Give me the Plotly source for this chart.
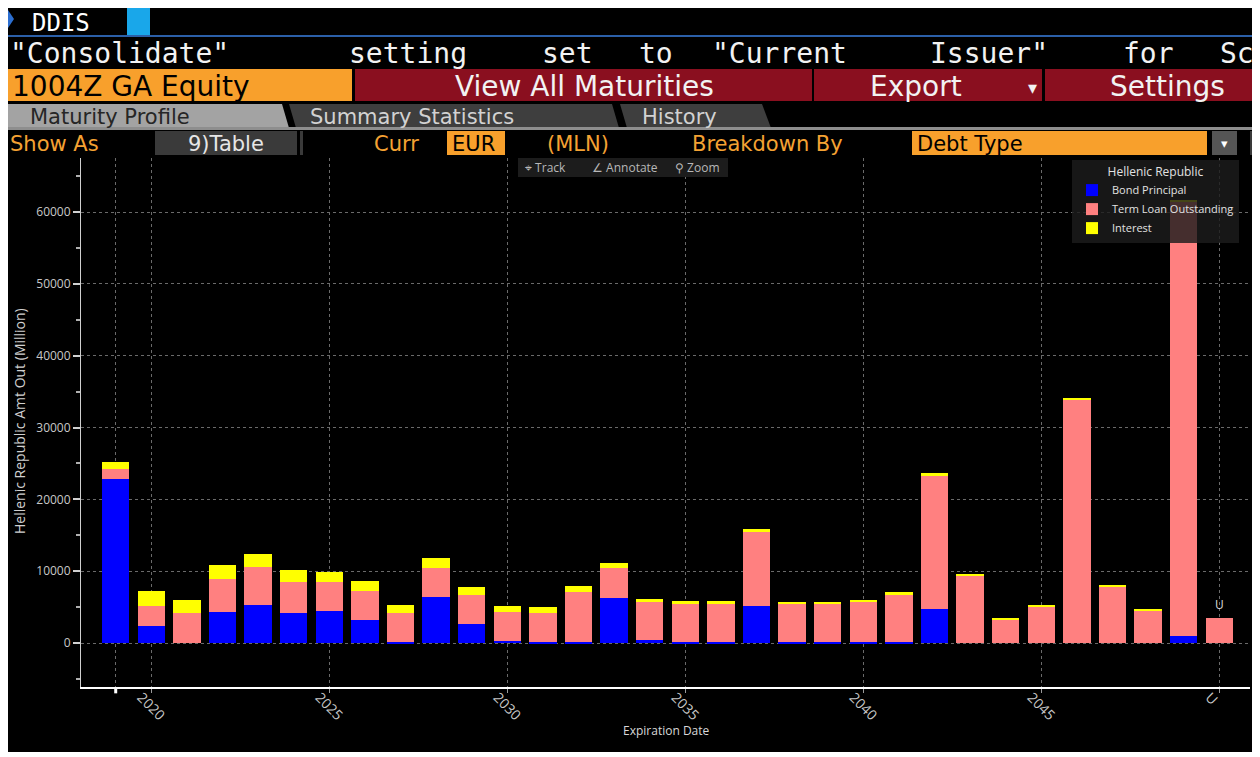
import plotly.graph_objects as go

# ---------------- data ----------------
categories = ["2019", "2020", "2021", "2022", "2023", "2024", "2025", "2026", "2027", "2028",
              "2029", "2030", "2031", "2032", "2033", "2034", "2035", "2036", "2037", "2038",
              "2039", "2040", "2041", "2042", "2043", "2044", "2045", "2046", "2047", "2048",
              "2049", "U"]
bond_principal = [22790, 2420, 0, 4370, 5260, 4230, 4510, 3260, 200, 6370,
                  2700, 330, 150, 100, 6230, 470, 100, 100, 5120, 100,
                  100, 120, 190, 4780, 0, 0, 0, 0, 0, 0,
                  970, 0]
term_loan = [1490, 2790, 4230, 4510, 5300, 4330, 3960, 4040, 4030, 4140,
             4040, 4040, 4080, 6970, 4190, 5300, 5390, 5390, 10280, 5390,
             5390, 5690, 6620, 18590, 9460, 3250, 5150, 33940, 7880, 4500,
             60500, 3480]
interest = [880, 2000, 1820, 2000, 1860, 1630, 1440, 1300, 1120, 1260,
            1030, 840, 840, 840, 740, 420, 420, 420, 410, 280,
            280, 230, 240, 270, 140, 130, 180, 180, 140, 140,
            230, 0]
x_tick_vals = ["2019", "2020", "2025", "2030", "2035", "2040", "2045", "U"]
x_tick_text = ["", "2020", "2025", "2030", "2035", "2040", "2045", "U"]
y_tick_vals = [0, 10000, 20000, 30000, 40000, 50000, 60000]
y_tick_text = ["0", "10000", "20000", "30000", "40000", "50000", "60000"]

# ---------------- geometry (reference-screen pixel helpers) ----------------
OFF = 8                       # page body offset
W, H = 1248, 744
PL, PR, PT, PB = 81, 1250, 158, 687   # plot area in screen pixels
ML, MT = PL - OFF, PT - OFF
MR, MB = W - (PR - OFF), H - (PB - OFF)
PW, PH = PR - PL, PB - PT


def px(x):
    return (x - PL) / PW


def py(y):
    return (PB - y) / PH


fig = go.Figure()
fig.add_trace(go.Bar(x=categories, y=bond_principal, name="Bond Principal",
                     marker=dict(color="#0000FF", line=dict(width=0)), width=0.77))
fig.add_trace(go.Bar(x=categories, y=term_loan, name="Term Loan Outstanding",
                     marker=dict(color="#FF8080", line=dict(width=0)), width=0.77))
fig.add_trace(go.Bar(x=categories, y=interest, name="Interest",
                     marker=dict(color="#FFFF00", line=dict(width=0)), width=0.77))

shapes = []
ann = []


def rect(x0, y0, x1, y1, color, layer="above"):
    shapes.append(dict(type="rect", xref="paper", yref="paper", x0=px(x0), x1=px(x1),
                       y0=py(y1), y1=py(y0), fillcolor=color, line=dict(width=0), layer=layer))


def poly(points, color):
    d = "M " + " L ".join(f"{px(a):.5f},{py(b):.5f}" for a, b in points) + " Z"
    shapes.append(dict(type="path", xref="paper", yref="paper", path=d, fillcolor=color,
                       line=dict(width=0), layer="above"))


def txt(x, y, s, size, color, family="DejaVu Sans", anchor="left", angle=0):
    ann.append(dict(xref="paper", yref="paper", x=px(x), y=py(y), text=s, showarrow=False,
                    xanchor=anchor, yanchor="middle", textangle=angle,
                    font=dict(family=family, size=size, color=color)))


ORANGE = "#F8A02C"
OTXT = "#F4A233"
RED = "#8A0F1F"
MONO = "DejaVu Sans Mono"

# row 1
poly([(8, 10), (14, 19), (8, 28)], "#2C6FD1")
txt(30, 22.5, "DDIS", 24, "#FFFFFF", MONO)
rect(127, 4, 150, 35, "#19A7EA")
rect(0, 35, 1260, 37, "#2B5FA8")
# row 2
words = ['"Consolidate"', "setting", "set", "to", '"Current', 'Issuer"', "for", "Sc"]
idx = 0
for w in words:
    txt(8 + idx * 24.2, 53, w, 28, "#F2F2F2", MONO)
    idx += len(w) + 1
# row 3
rect(7, 69, 352, 101, ORANGE)
txt(10, 86, "1004Z GA Equity", 28, "#000000")
rect(355, 69, 812, 101, RED)
txt(584, 86, "View All Maturities", 28, "#F2F2F2", anchor="center")
rect(814, 69, 1042, 101, RED)
txt(868, 86, "Export", 28, "#F2F2F2")
txt(1032, 87, "▾", 18, "#F2F2F2", anchor="center")
rect(1045, 69, 1260, 101, RED)
txt(1108, 86, "Settings", 28, "#F2F2F2")
# row 4 tabs
poly([(8, 104), (282, 104), (289, 128), (8, 128)], "#A3A3A3")
txt(28, 116.5, "Maturity Profile", 21, "#262626")
poly([(289, 104), (612, 104), (619, 128), (296, 128)], "#3E3E3E")
txt(308, 116.5, "Summary Statistics", 21, "#D2D2D2")
poly([(620, 104), (762, 104), (771, 128), (627, 128)], "#3E3E3E")
txt(640, 116.5, "History", 21, "#D2D2D2")
rect(7, 127, 1260, 130, "#8E8E8E")
# row 5
txt(8, 143.5, "Show As", 21, OTXT)
rect(155, 131, 297, 155, "#3A3A3A")
txt(226, 143.5, "9)Table", 21, "#E6E6E6", anchor="center")
rect(300, 131, 303, 155, "#3A3A3A")
txt(372, 143.5, "Curr", 21, OTXT)
rect(447, 131, 505, 155, ORANGE)
txt(450, 143.5, "EUR", 21, "#000000")
txt(545, 143.5, "(MLN)", 21, OTXT)
txt(690, 143.5, "Breakdown By", 21, OTXT)
rect(912, 131, 1207, 155, ORANGE)
txt(915, 143.5, "Debt Type", 21, "#000000")
rect(1212, 131, 1237, 155, "#555555")
txt(1224, 144, "▾", 13, "#FFFFFF", anchor="center")
rect(1250, 131, 1260, 155, "#3A3A3A")
# chart toolbar
rect(518, 158, 728, 177, "#1C1C1C")
txt(523, 167.5, "⌖ Track", 12, "#B8B8B8", "Open Sans")
txt(590, 167.5, "∠ Annotate", 12, "#B8B8B8", "Open Sans")
txt(673, 167.5, "⚲ Zoom", 12, "#B8B8B8", "Open Sans")

# axis titles placed at their screen positions
txt(666, 730, "Expiration Date", 12, "#D8D8D8", "Open Sans", anchor="center")
txt(19, 421, "Hellenic Republic Amt Out (Million)", 14, "#D0D0D0", "Open Sans",
    anchor="center", angle=-90)

# marker tick at first category
shapes.append(dict(type="line", xref="x", yref="paper", x0=0, x1=0, y0=0, y1=-0.012,
                   line=dict(color="#FFFFFF", width=3), layer="above"))

# "U" label above the undated bar
u_i = categories.index("U")
u_total = bond_principal[u_i] + term_loan[u_i] + interest[u_i]
ann.append(dict(xref="x", yref="y", x="U", y=u_total, text="U", showarrow=False,
                yanchor="bottom", yshift=3, font=dict(family="Open Sans", size=12, color="#D8D8D8")))

AX = "#C8C8C8"
fig.update_layout(
    width=W, height=H,
    margin=dict(l=ML, r=MR, t=MT, b=MB, autoexpand=False),
    paper_bgcolor="#000000", plot_bgcolor="#000000",
    barmode="stack", bargap=0.23,
    font=dict(family="Open Sans", size=12, color=AX),
    showlegend=True,
    legend=dict(x=px(1072), y=py(160), xanchor="left", yanchor="top",
                bgcolor="rgba(28,28,28,0.82)", borderwidth=0, traceorder="normal",
                font=dict(family="Open Sans", size=11, color="#E2E2E2"),
                title=dict(text="Hellenic Republic", side="top center",
                           font=dict(family="Open Sans", size=12, color="#E2E2E2")),
                itemwidth=30, tracegroupgap=0),
    xaxis=dict(type="category", range=[-0.975, 31.86], tickmode="array",
               tickvals=x_tick_vals, ticktext=x_tick_text, tickangle=45,
               ticklabelshift=-10, ticklabelstandoff=-9,
               showgrid=True, gridcolor="#6A6A6A", griddash="dot", gridwidth=1,
               showline=True, linecolor="#FFFFFF", linewidth=1.5,
               ticks="outside", ticklen=4, tickcolor="#9A9A9A",
               tickfont=dict(family="Open Sans", size=14, color=AX),
               zeroline=False, automargin=False),
    yaxis=dict(range=[-6120, 67520], tickmode="array", tickvals=y_tick_vals, ticktext=y_tick_text,
               showgrid=True, gridcolor="#6A6A6A", griddash="dot", gridwidth=1,
               showline=True, linecolor="#D0D0D0", linewidth=1,
               ticks="outside", ticklen=7, tickcolor="#D0D0D0", tickwidth=1.5,
               minor=dict(tickmode="linear", tick0=-5000, dtick=5000, ticks="outside",
                          ticklen=4, tickcolor="#B0B0B0", showgrid=False),
               tickfont=dict(family="Open Sans", size=12, color=AX),
               zeroline=False, automargin=False),
    shapes=shapes, annotations=ann,
)

fig.write_html("out.html")
